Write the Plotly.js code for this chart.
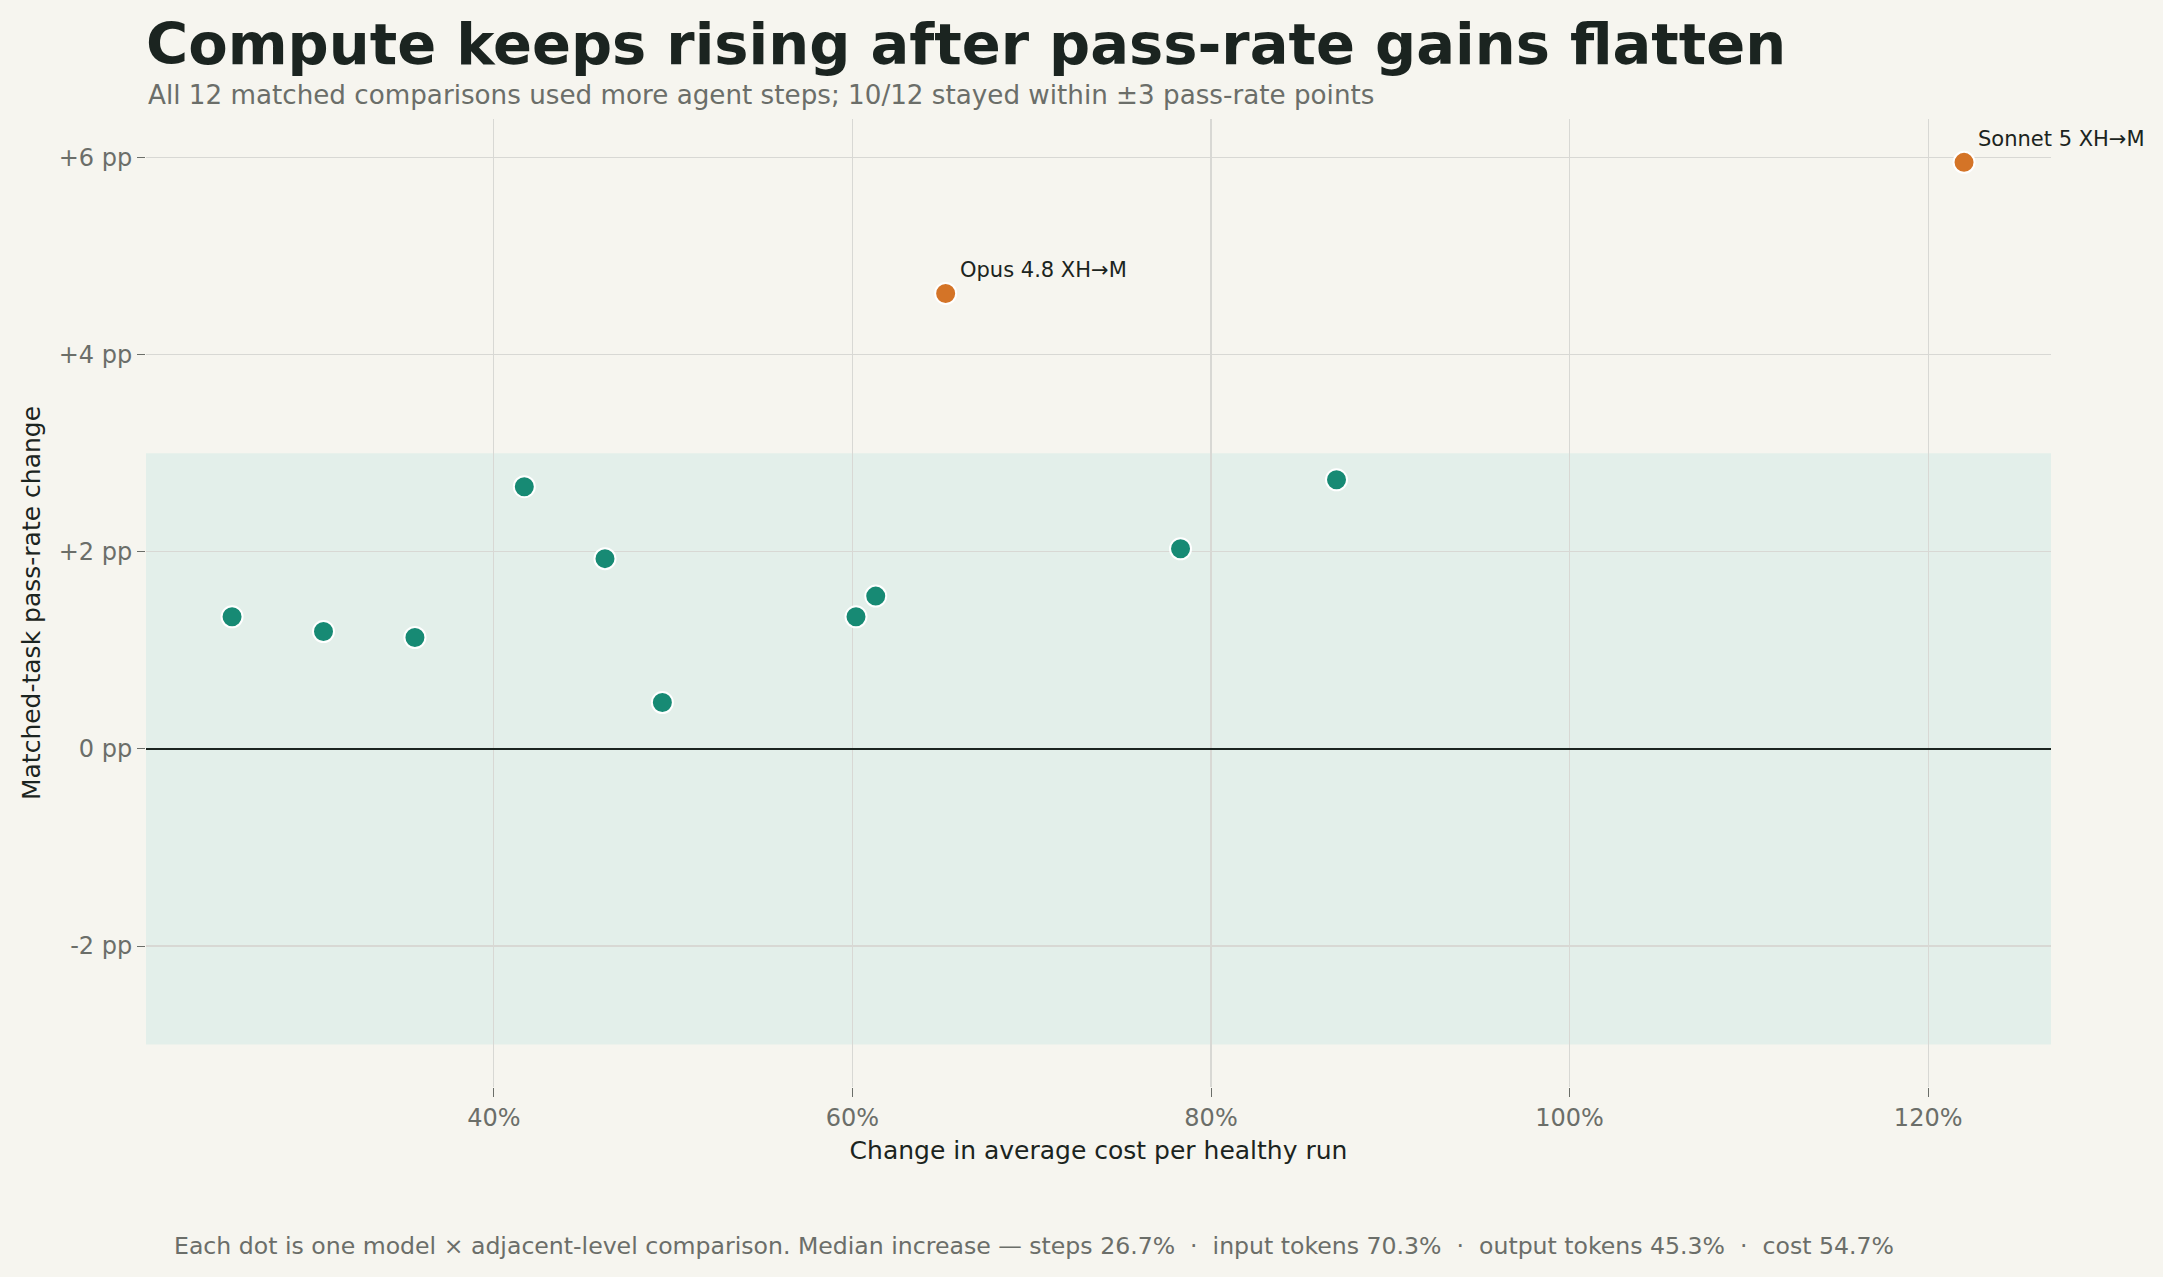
<!DOCTYPE html>
<html>
<head>
<meta charset="utf-8">
<script src="https://cdn.plot.ly/plotly-3.0.1.min.js"></script>
<style>
  html, body { margin: 0; padding: 0; background: #f6f5ef; }
  #chart { width: 2163px; height: 1277px; }
</style>
</head>
<body>
<div id="chart"></div>
<script>
// one dot per model x adjacent-level comparison
var costChange = [25.4, 30.5, 35.6, 41.7, 46.2, 49.4, 60.2, 61.3, 65.2, 78.3, 87.0, 122.0];
var passChange = [1.34, 1.19, 1.13, 2.66, 1.93, 0.47, 1.34, 1.55, 4.62, 2.03, 2.73, 5.95];
var labels = ["", "", "", "", "", "", "", "", "Opus 4.8 XH→M", "", "", "Sonnet 5 XH→M"];

var yTicks = [-2, 0, 2, 4, 6];
var yTickText = ["-2 pp", "0 pp", "+2 pp", "+4 pp", "+6 pp"];
var xTicks = [40, 60, 80, 100, 120];
var xTickText = ["40%", "60%", "80%", "100%", "120%"];

var band = 3; // ±3 pass-rate points

var teal = "#178a74",
    orange = "#d47427",
    font = "DejaVu Sans, sans-serif";

function drawChart() {
    var colors = [];
    var annotations = [];

    for (var i in costChange) {
        // outliers (outside the ±3 band) are highlighted and labelled
        var outside = Math.abs(passChange[i]) > band;
        colors.push(outside ? orange : teal);

        if (labels[i]) {
            annotations.push({
                x: costChange[i],
                y: passChange[i],
                xref: "x",
                yref: "y",
                text: labels[i],
                showarrow: true,
                arrowcolor: "rgba(0,0,0,0)",
                ax: 12,
                ay: -23,
                xanchor: "left",
                yanchor: "middle",
                font: { family: font, size: 21, color: "#1b2420" },
            });
        }
    }

    annotations.push({
        xref: "paper",
        yref: "paper",
        x: 0.0137,
        y: -0.164,
        xanchor: "left",
        yanchor: "middle",
        showarrow: false,
        text: "Each dot is one model × adjacent-level comparison. Median increase — steps 26.7%  ·  input tokens 70.3%  ·  output tokens 45.3%  ·  cost 54.7%",
        font: { family: font, size: 23.6, color: "#6b6e69" },
    });

    annotations.push({
        xref: "paper",
        yref: "paper",
        x: 0,
        y: 1.0248,
        xanchor: "left",
        yanchor: "middle",
        showarrow: false,
        text: "All 12 matched comparisons used more agent steps; 10/12 stayed within ±3 pass-rate points",
        font: { family: font, size: 26.2, color: "#6b6e69" },
    });

    var dots = {
        x: costChange,
        y: passChange,
        mode: "markers",
        type: "scatter",
        hoverinfo: "skip",
        marker: {
            size: 21,
            color: colors,
            line: { color: "#ffffff", width: 2 },
        },
    };

    var layout = {
        width: 2163,
        height: 1277,
        showlegend: false,
        paper_bgcolor: "#f6f5ef",
        plot_bgcolor: "#f6f5ef",
        margin: { l: 146, r: 112, t: 119, b: 190, pad: 0 },
        title: {
            text: "<b>Compute keeps rising after pass-rate gains flatten</b>",
            x: 146 / 2163,
            xanchor: "left",
            y: 1 - 44 / 1277,
            yanchor: "middle",
            font: { family: font, size: 57.5, color: "#1b2420" },
        },
        xaxis: {
            range: [20.6, 126.85],
            tickvals: xTicks,
            ticktext: xTickText,
            ticks: "outside",
            ticklen: 9,
            tickcolor: "#6b6e69",
            tickfont: { family: font, size: 24, color: "#6b6e69" },
            showgrid: true,
            gridcolor: "#d8d8d4",
            gridwidth: 1.3,
            zeroline: false,
            showline: false,
            title: {
                text: "Change in average cost per healthy run",
                font: { family: font, size: 25, color: "#1b2420" },
                standoff: 10,
            },
        },
        yaxis: {
            range: [-3.43, 6.39],
            tickvals: yTicks,
            ticktext: yTickText,
            ticks: "outside",
            ticklen: 8,
            tickcolor: "#6b6e69",
            tickfont: { family: font, size: 24, color: "#6b6e69" },
            showgrid: true,
            gridcolor: "#d8d8d4",
            gridwidth: 1.3,
            zeroline: true,
            zerolinecolor: "#1b2420",
            zerolinewidth: 2.5,
            showline: false,
            title: {
                text: "Matched-task pass-rate change",
                font: { family: font, size: 25, color: "#1b2420" },
                standoff: 10,
            },
        },
        shapes: [
            {
                type: "rect",
                xref: "paper",
                yref: "y",
                x0: 0,
                x1: 1,
                y0: -band,
                y1: band,
                fillcolor: "#e3efea",
                line: { width: 0 },
                layer: "below",
            },
        ],
        annotations: annotations,
    };

    Plotly.newPlot("chart", [dots], layout, { staticPlot: true });
}

drawChart();
</script>
</body>
</html>
